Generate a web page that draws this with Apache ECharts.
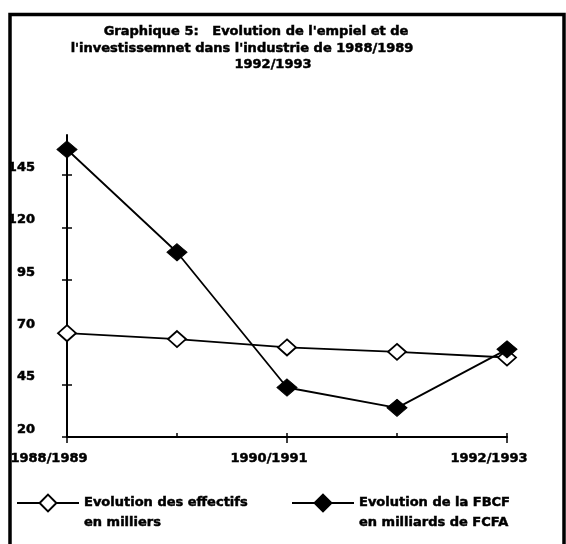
<!DOCTYPE html>
<html>
<head>
<meta charset="utf-8">
<script src="https://cdn.jsdelivr.net/npm/echarts@6/dist/echarts.min.js"></script>
<style>html,body{margin:0;padding:0;background:#fff;}#c{width:566px;height:544px;}</style>
</head>
<body>
<div id="c"></div>
<script>
const categories = ['1988/1989', '1989/1990', '1990/1991', '1991/1992', '1992/1993'];
const effectifs = [69.5, 66.7, 62.7, 60.6, 57.9];
const fbcf = [157.1, 108.1, 43.6, 33.9, 61.8];
const yTicks = [20, 45, 70, 95, 120, 145];
const titleLines = ["Graphique 5:   Evolution de l'empiel et de", "l'investissemnet dans l'industrie de 1988/1989", "1992/1993"];
const seriesNames = ['Evolution des effectifs\nen milliers', 'Evolution de la FBCF\nen milliards de FCFA'];

const FONT = 'DejaVu Sans';
const HEAVY = {textBorderColor: '#000', textBorderWidth: 0.5};
const chart = echarts.init(document.getElementById('c'), null, {renderer: 'canvas'});
const yMin = 20, yMax = 164;
const titleStyle = Object.assign({fontFamily: FONT, fontWeight: 'bold', fontSize: 13, color: '#000'}, HEAVY);
const legendText = Object.assign({fontFamily: FONT, fontWeight: 'bold', fontSize: 13, color: '#000', lineHeight: 20}, HEAVY);
// a leading empty line puts the first text line level with the legend icon
const legendFormatter = function (name) { return '\n' + name; };
chart.setOption({
  animation: false,
  backgroundColor: '#fff',
  title: [
    {text: titleLines[0], left: 256, top: 25, textAlign: 'center', padding: 0, textStyle: titleStyle},
    {text: titleLines[1], left: 242, top: 42, textAlign: 'center', padding: 0, textStyle: titleStyle},
    {text: titleLines[2], left: 273, top: 58.5, textAlign: 'center', padding: 0, textStyle: titleStyle}
  ],
  graphic: [{
    type: 'rect', shape: {x: 10, y: 14.5, width: 554, height: 545},
    style: {fill: 'none', stroke: '#000', lineWidth: 3.5}, silent: true, z: 100
  }],
  legend: [
    {data: [seriesNames[0]], left: 16, top: 473, itemWidth: 62, itemHeight: 21, padding: 0, textStyle: legendText, formatter: legendFormatter},
    {data: [seriesNames[1]], left: 291, top: 473, itemWidth: 62, itemHeight: 21, padding: 0, textStyle: legendText, formatter: legendFormatter}
  ],
  grid: {left: 67, right: 59, top: 135, bottom: 107, containLabel: false},
  xAxis: [{
    type: 'category', data: categories, boundaryGap: false,
    axisLine: {lineStyle: {color: '#000', width: 2}},
    axisTick: {show: true, length: 6, lineStyle: {color: '#000', width: 1.5}},
    axisLabel: Object.assign({interval: 1, margin: 15, fontFamily: FONT, fontWeight: 'bold', fontSize: 13, color: '#000', padding: [0, 36, 0, 0]}, HEAVY),
    splitLine: {show: false}
  }, {
    type: 'category', data: categories, boundaryGap: false, position: 'bottom', offset: 0,
    axisLine: {show: false},
    axisTick: {show: true, inside: true, length: 4, lineStyle: {color: '#000', width: 1.5}},
    axisLabel: {show: false}, splitLine: {show: false}
  }],
  yAxis: [{
    type: 'value', min: yMin, max: yMax, interval: 25,
    axisLine: {show: true, lineStyle: {color: '#000', width: 2}},
    axisTick: {show: true, length: 5, customValues: yTicks, lineStyle: {color: '#000', width: 1.5}},
    axisLabel: Object.assign({margin: 32, customValues: yTicks, fontFamily: FONT, fontWeight: 'bold', fontSize: 13, color: '#000', verticalAlign: 'bottom', lineHeight: 15}, HEAVY),
    splitLine: {show: false}
  }, {
    type: 'value', min: yMin, max: yMax, interval: 25, position: 'left', offset: 0,
    axisLine: {show: false},
    axisTick: {show: true, inside: true, length: 5, customValues: yTicks, lineStyle: {color: '#000', width: 1.5}},
    axisLabel: {show: false}, splitLine: {show: false}
  }],
  series: [{
    name: seriesNames[0], type: 'line', data: effectifs, xAxisIndex: 0, yAxisIndex: 0,
    symbol: 'diamond', symbolSize: [18, 16], showAllSymbol: true,
    lineStyle: {color: '#000', width: 1.8},
    itemStyle: {color: '#fff', borderColor: '#000', borderWidth: 1.8}
  }, {
    name: seriesNames[1], type: 'line', data: fbcf, xAxisIndex: 0, yAxisIndex: 0,
    symbol: 'diamond', symbolSize: [20, 17], showAllSymbol: true,
    lineStyle: {color: '#000', width: 1.8},
    itemStyle: {color: '#000', borderColor: '#000', borderWidth: 1}
  }]
});
</script>
</body>
</html>
